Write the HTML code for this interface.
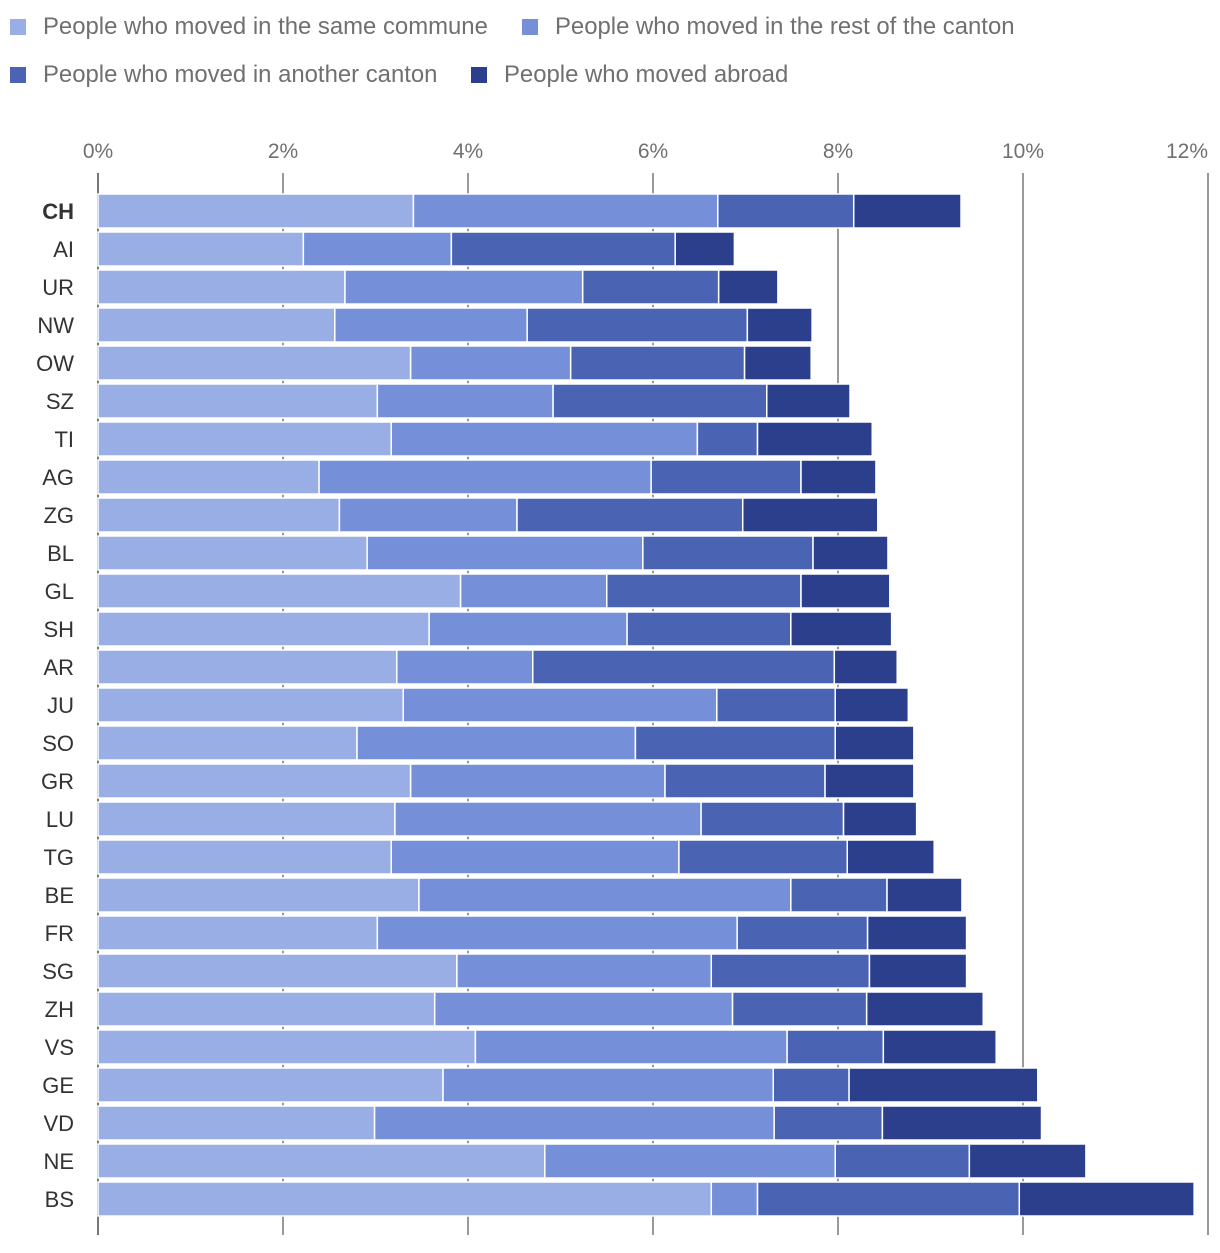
<!DOCTYPE html>
<html><head><meta charset="utf-8"><style>
body{margin:0;background:#fff;width:1220px;height:1248px;overflow:hidden;font-family:"Liberation Sans",sans-serif}
</style></head><body>
<svg id="chart" width="1220" height="1248" xmlns="http://www.w3.org/2000/svg"></svg>
<script>
const categories=["CH","AI","UR","NW","OW","SZ","TI","AG","ZG","BL","GL","SH","AR","JU","SO","GR","LU","TG","BE","FR","SG","ZH","VS","GE","VD","NE","BS"];
const sameCommune=[3.41,2.22,2.67,2.56,3.38,3.02,3.17,2.39,2.61,2.91,3.92,3.58,3.23,3.30,2.80,3.38,3.21,3.17,3.47,3.02,3.88,3.64,4.08,3.73,2.99,4.83,6.63];
const restCanton=[3.29,1.60,2.57,2.08,1.73,1.90,3.31,3.59,1.92,2.98,1.58,2.14,1.47,3.39,3.01,2.75,3.31,3.11,4.02,3.89,2.75,3.22,3.37,3.57,4.32,3.14,0.50];
const anotherCanton=[1.47,2.42,1.47,2.38,1.88,2.31,0.65,1.62,2.44,1.84,2.10,1.77,3.26,1.28,2.16,1.73,1.54,1.82,1.04,1.41,1.71,1.45,1.04,0.82,1.17,1.45,2.83];
const abroad=[1.16,0.64,0.64,0.70,0.72,0.90,1.24,0.81,1.46,0.81,0.96,1.09,0.68,0.79,0.85,0.96,0.79,0.94,0.81,1.07,1.05,1.26,1.22,2.04,1.72,1.26,1.89];
const tickValues=[0,2,4,6,8,10,12];
const seriesNames=["People who moved in the same commune","People who moved in the rest of the canton","People who moved in another canton","People who moved abroad"];
const colors=["#9aaee6","#7590d8","#4a63b3","#2b3f8c"];
const NS="http://www.w3.org/2000/svg";
const svg=document.getElementById('chart');
const x=v=>98+v*92.5;
const yc=i=>211+i*38;
function mk(t,a,txt){const e=document.createElementNS(NS,t);for(const k in a)e.setAttribute(k,a[k]);if(txt!=null)e.textContent=txt;svg.appendChild(e);return e;}
const legPos=[[10,26],[522,26],[10,74],[471,74]];
seriesNames.forEach((n,i)=>{
  const r=mk('rect',{x:legPos[i][0],y:legPos[i][1]-7,width:16,height:16,fill:colors[i]});
  
  
  const t=mk('text',{x:legPos[i][0]+33,y:legPos[i][1]+8,'font-size':23.9,fill:'#707070'},n);
  
  
});
tickValues.forEach((v,j)=>{
  const l=mk('line',{x1:x(v),x2:x(v),y1:173,y2:1235,stroke:v===0?'#777':'#999','stroke-width':2});
  
  
  const last=j===tickValues.length-1;
  const t=mk('text',{x:last?x(v):x(v),y:158,'font-size':21,fill:'#707070','text-anchor':last?'end':'middle'},v+'%');
  
  
});
const series=[sameCommune,restCanton,anotherCanton,abroad];
categories.forEach((c,i)=>{
  const lab=mk('text',{x:74,y:yc(i)+8,'font-size':22,fill:'#333','text-anchor':'end','font-weight':i===0?'bold':'normal'},c);
  
  
  let cum=0;
  series.forEach((s,k)=>{
    const x0=x(cum),x1=x(cum+s[i]);cum+=s[i];
    const r=mk('rect',{x:x0,y:yc(i)-17,width:Math.max(0,x1-x0),height:34,fill:colors[k],stroke:'#fff','stroke-width':1.5});
    
    
  });
});
</script>
</body></html>
